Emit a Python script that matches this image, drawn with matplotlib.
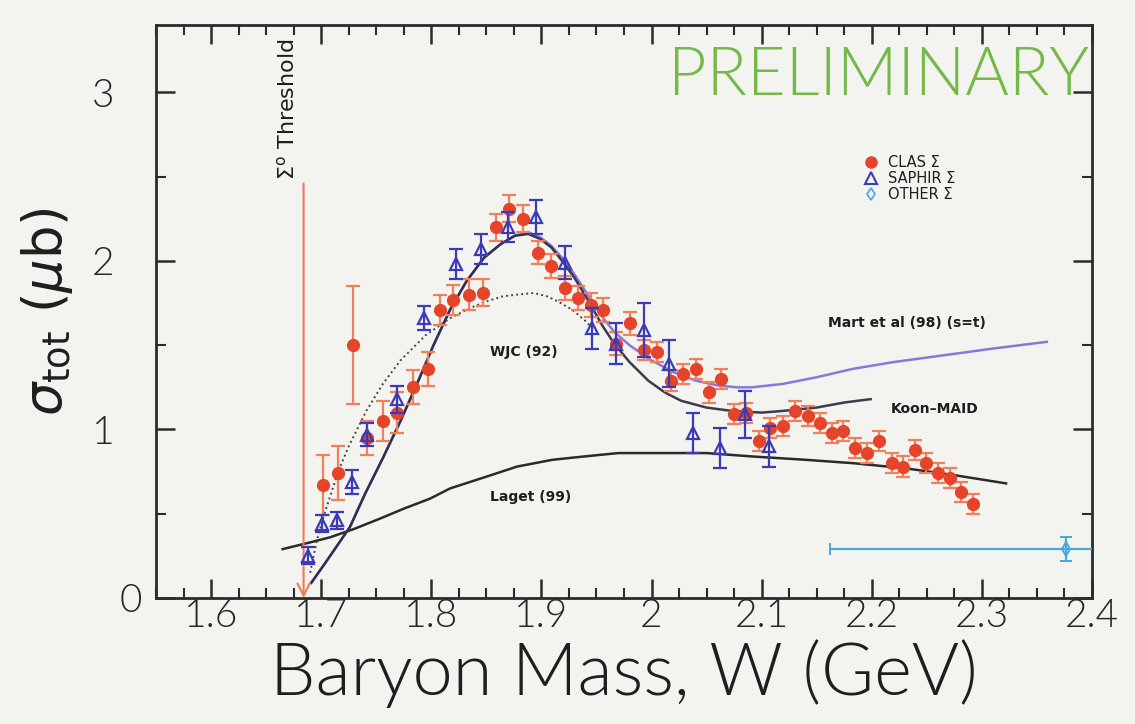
import matplotlib
matplotlib.use("Agg")
import matplotlib.pyplot as plt
from matplotlib.lines import Line2D
from matplotlib.ticker import MultipleLocator, FixedLocator, FuncFormatter

# ---------------- data ----------------
clas_w = [1.702, 1.715, 1.729, 1.742, 1.756, 1.769, 1.783, 1.797, 1.808, 1.820,
          1.834, 1.847, 1.859, 1.871, 1.883, 1.897, 1.909, 1.921, 1.933, 1.945,
          1.956, 1.968, 1.980, 1.993, 2.005, 2.018, 2.029, 2.040, 2.052, 2.063,
          2.075, 2.086, 2.098, 2.108, 2.119, 2.130, 2.142, 2.153, 2.164, 2.174,
          2.185, 2.196, 2.207, 2.218, 2.228, 2.239, 2.249, 2.260, 2.271, 2.281,
          2.292]
clas_sig = [0.67, 0.74, 1.50, 0.95, 1.05, 1.10, 1.25, 1.36, 1.71, 1.77,
            1.80, 1.81, 2.20, 2.31, 2.25, 2.05, 1.97, 1.84, 1.78, 1.74,
            1.71, 1.51, 1.63, 1.47, 1.46, 1.29, 1.33, 1.36, 1.22, 1.30,
            1.09, 1.10, 0.93, 1.01, 1.02, 1.11, 1.08, 1.04, 0.98, 0.99,
            0.89, 0.86, 0.93, 0.80, 0.78, 0.88, 0.80, 0.74, 0.71, 0.63,
            0.56]
clas_err = [0.18, 0.16, 0.35, 0.10, 0.12, 0.12, 0.10, 0.10, 0.09, 0.09,
            0.09, 0.08, 0.08, 0.08, 0.08, 0.07, 0.07, 0.07, 0.07, 0.07,
            0.07, 0.07, 0.07, 0.06, 0.06, 0.06, 0.06, 0.06, 0.06, 0.06,
            0.06, 0.06, 0.06, 0.06, 0.06, 0.06, 0.06, 0.06, 0.06, 0.06,
            0.06, 0.06, 0.06, 0.06, 0.06, 0.06, 0.06, 0.06, 0.06, 0.06,
            0.06]

saphir_w = [1.688, 1.701, 1.714, 1.728, 1.742, 1.769, 1.793, 1.822, 1.845,
            1.870, 1.895, 1.921, 1.946, 1.968, 1.993, 2.016, 2.038, 2.062,
            2.085, 2.107]
saphir_sig = [0.25, 0.44, 0.46, 0.69, 0.97, 1.18, 1.66, 1.98, 2.07,
              2.20, 2.26, 1.99, 1.60, 1.51, 1.59, 1.39, 0.98, 0.89,
              1.09, 0.90]
saphir_err = [0.05, 0.05, 0.05, 0.07, 0.07, 0.08, 0.07, 0.09, 0.09,
              0.09, 0.10, 0.10, 0.12, 0.12, 0.16, 0.14, 0.12, 0.12,
              0.14, 0.12]

other_w = [2.376]
other_sig = [0.29]
other_werr = [0.214]
other_err = [0.07]

koon_w = [1.691, 1.705, 1.726, 1.740, 1.756, 1.772, 1.787, 1.802, 1.817, 1.832,
          1.848, 1.863, 1.876, 1.888, 1.899, 1.909, 1.920, 1.930, 1.943, 1.955,
          1.966, 1.980, 1.997, 2.012, 2.027, 2.050, 2.073, 2.100, 2.119, 2.150,
          2.175, 2.199]
koon_sig = [0.09, 0.22, 0.42, 0.62, 0.83, 1.05, 1.27, 1.50, 1.71, 1.88,
            2.02, 2.10, 2.15, 2.16, 2.13, 2.08, 1.99, 1.90, 1.76, 1.62,
            1.51, 1.40, 1.29, 1.22, 1.17, 1.13, 1.11, 1.10, 1.11, 1.13,
            1.16, 1.18]

mart_w = [1.691, 1.705, 1.726, 1.740, 1.756, 1.772, 1.787, 1.802, 1.817, 1.832,
          1.848, 1.863, 1.876, 1.888, 1.899, 1.909, 1.920, 1.930, 1.943, 1.955,
          1.966, 1.980, 2.000, 2.020, 2.040, 2.061, 2.078, 2.091, 2.119, 2.150,
          2.183, 2.220, 2.265, 2.310, 2.359]
mart_sig = [0.09, 0.22, 0.42, 0.62, 0.83, 1.05, 1.27, 1.50, 1.71, 1.88,
            2.02, 2.10, 2.15, 2.17, 2.14, 2.09, 2.01, 1.92, 1.79, 1.67,
            1.58, 1.50, 1.41, 1.34, 1.29, 1.26, 1.25, 1.25, 1.27, 1.31,
            1.36, 1.40, 1.44, 1.48, 1.52]

wjc_w = [1.690, 1.696, 1.702, 1.708, 1.716, 1.725, 1.741, 1.756, 1.772, 1.795,
         1.817, 1.835, 1.850, 1.865, 1.878, 1.893, 1.905, 1.915, 1.928, 1.939,
         1.948]
wjc_sig = [0.15, 0.34, 0.48, 0.60, 0.76, 0.90, 1.11, 1.27, 1.41, 1.56,
           1.66, 1.72, 1.76, 1.79, 1.80, 1.81, 1.79, 1.76, 1.71, 1.65,
           1.59]

laget_w = [1.665, 1.690, 1.708, 1.730, 1.753, 1.775, 1.799, 1.817, 1.850, 1.878,
           1.910, 1.939, 1.970, 2.000, 2.050, 2.091, 2.140, 2.183, 2.230, 2.274,
           2.322]
laget_sig = [0.29, 0.33, 0.36, 0.41, 0.47, 0.53, 0.59, 0.65, 0.72, 0.78,
             0.82, 0.84, 0.86, 0.86, 0.86, 0.84, 0.82, 0.80, 0.77, 0.73,
             0.68]

threshold_w = 1.684
threshold_top = 2.46

xticks = [1.6, 1.7, 1.8, 1.9, 2.0, 2.1, 2.2, 2.3, 2.4]
yticks = [0, 1, 2, 3]

# ---------------- style ----------------
BG = '#f3f4ef'
RED = '#e5432a'
RED_ERR = '#f07f5a'
BLUE = '#3b3bb5'
CYAN = '#4aa8dc'
PURPLE = '#8878dc'
GREEN = '#74b948'
AX = '#2b2b2b'
TXT = '#1e1e1e'
GEO = ['Lato', 'DejaVu Sans']

plt.rcParams['font.family'] = ['DejaVu Sans']
plt.rcParams['mathtext.fontset'] = 'dejavusans'

fig = plt.figure(figsize=(11.35, 7.24), dpi=100, facecolor=BG)
ax = fig.add_axes([156/1135, 1-598/724, (1092-156)/1135, (598-25)/724])
ax.set_facecolor(BG)

ax.set_xlim(1.55, 2.4)
ax.set_ylim(0, 3.40)

# model curves
ax.plot(laget_w, laget_sig, color='#2a2a2a', lw=1.8, zorder=2)
ax.plot(wjc_w, wjc_sig, color='#444444', lw=1.4, ls=(0, (1, 1.6)), zorder=2)
ax.plot(mart_w, mart_sig, color=PURPLE, lw=1.8, zorder=2)
ax.plot(koon_w, koon_sig, color='#262640', lw=1.8, zorder=2, alpha=0.9)

# threshold arrow
ax.annotate('', xy=(threshold_w, 0.0), xytext=(threshold_w, threshold_top),
            arrowprops=dict(arrowstyle='->', color='#ef7a5c', lw=1.5,
                            mutation_scale=22, shrinkA=0, shrinkB=0),
            zorder=3)
ax.text(threshold_w - 0.015, threshold_top + 0.02, r'$\Sigma^{\mathrm{o}}$ Threshold',
        rotation=90, ha='center', va='bottom', fontsize=16, color=TXT)

# data
ax.errorbar(clas_w, clas_sig, yerr=clas_err, fmt='o', color=RED, ms=8.5,
            mec=RED, ecolor=RED_ERR, elinewidth=1.6, capsize=5, capthick=1.6,
            zorder=4)
ax.errorbar(saphir_w, saphir_sig, yerr=saphir_err, fmt='^', color=BLUE, ms=9,
            mfc='none', mec=BLUE, mew=1.6, ecolor=BLUE, elinewidth=1.6,
            capsize=5, capthick=1.6, zorder=5)
ax.errorbar(other_w, other_sig, xerr=other_werr, yerr=other_err, fmt='d',
            color=CYAN, ms=7, mfc='none', mec=CYAN, mew=1.4, ecolor=CYAN,
            elinewidth=1.6, capsize=4, capthick=1.4, zorder=5, clip_on=True)

# curve labels
lab_kw = dict(fontsize=10, color=TXT, ha='center', va='center', fontweight='bold')
ax.text(1.884, 1.46, 'WJC (92)', **lab_kw)
ax.text(1.890, 0.60, 'Laget (99)', **lab_kw)
ax.text(2.232, 1.63, 'Mart et al (98) (s=t)', **lab_kw)
ax.text(2.257, 1.12, 'Koon\u2013MAID', **lab_kw)

# PRELIMINARY
ax.text(0.997, 0.962, 'PRELIMINARY', transform=ax.transAxes, ha='right', va='top',
        fontsize=48, color=GREEN, family=GEO, fontweight=300)

# legend
handles = [Line2D([], [], ls='none', marker='o', color=RED, ms=8),
           Line2D([], [], ls='none', marker='^', mfc='none', mec=BLUE, mew=1.5, ms=8),
           Line2D([], [], ls='none', marker='d', mfc='none', mec=CYAN, mew=1.2, ms=6)]
leg = ax.legend(handles, ['CLAS \u03a3', 'SAPHIR \u03a3', 'OTHER \u03a3'],
                loc='upper left', bbox_to_anchor=(0.748, 0.785), frameon=False,
                fontsize=10.5, handlelength=1.0, handletextpad=0.7,
                labelspacing=0.05, borderpad=0.0)
for t in leg.get_texts():
    t.set_color(TXT)

# axes styling
for s in ax.spines.values():
    s.set_color(AX)
    s.set_linewidth(2)

ax.xaxis.set_major_locator(FixedLocator(xticks))
ax.xaxis.set_minor_locator(MultipleLocator(0.025))
ax.yaxis.set_major_locator(FixedLocator(yticks))
ax.yaxis.set_minor_locator(MultipleLocator(0.5))
ax.xaxis.set_major_formatter(FuncFormatter(lambda v, p: f'{v:g}'))
ax.yaxis.set_major_formatter(FuncFormatter(lambda v, p: f'{v:g}'))

ax.tick_params(which='both', direction='in', top=True, right=True, color=AX)
ax.tick_params(which='major', length=14, width=1.8, labelsize=28, labelcolor='#262626')
ax.tick_params(which='minor', length=7, width=1.5)
ax.tick_params(axis='x', which='major', pad=0)
ax.tick_params(axis='y', which='major', pad=30)
for lab in ax.get_xticklabels() + ax.get_yticklabels():
    lab.set_family(GEO)
    lab.set_fontweight(300)
# the "0" label sits closer to the axis in the reference
ax.yaxis.get_major_ticks()[0].set_pad(10)

ax.set_xlabel('Baryon Mass, W (GeV)', fontsize=52, color=TXT, labelpad=4,
              family=GEO, fontweight=300)
ax.set_ylabel(r'$\sigma_{\rm tot}$ ($\mu$b)', fontsize=38, color=TXT, labelpad=12)

fig.savefig('out.png', dpi=100, facecolor=BG)
